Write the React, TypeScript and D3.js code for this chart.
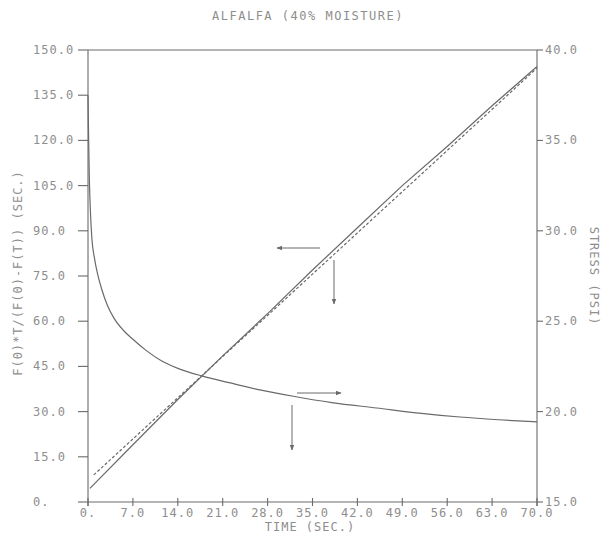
import React from "react";
import * as d3 from "d3";

const title = "ALFALFA (40% MOISTURE)";
const xLabel = "TIME (SEC.)";
const yLeftLabel = "F(0)*T/(F(0)-F(T))  (SEC.)";
const yRightLabel = "STRESS (PSI)";

const xTicks = [0, 7, 14, 21, 28, 35, 42, 49, 56, 63, 70];
const xTickLabels = ["0.", "7.0", "14.0", "21.0", "28.0", "35.0", "42.0", "49.0", "56.0", "63.0", "70.0"];
const yLeftTicks = [0, 15, 30, 45, 60, 75, 90, 105, 120, 135, 150];
const yLeftTickLabels = ["0.", "15.0", "30.0", "45.0", "60.0", "75.0", "90.0", "105.0", "120.0", "135.0", "150.0"];
const yRightTicks = [15, 20, 25, 30, 35, 40];
const yRightTickLabels = ["15.0", "20.0", "25.0", "30.0", "35.0", "40.0"];

// stress relaxation curve (right axis)
const stressTime = [0, 0.1, 0.2, 0.35, 0.6, 1.0, 1.5, 2.2, 3.0, 4.0, 5.5, 7.0, 9, 11.5, 14.3, 18, 22, 26.8, 32, 38, 45, 52, 58, 64, 70];
const stressValue = [37.5, 35, 33, 31.3, 29.6, 28.5, 27.6, 26.7, 25.9, 25.2, 24.5, 24.0, 23.4, 22.8, 22.35, 21.95, 21.6, 21.2, 20.85, 20.5, 20.2, 19.9, 19.7, 19.55, 19.43];

// linearized data (left axis, solid)
const ratioTime = [0.3, 7, 14, 21, 28, 35, 42, 49, 56, 63, 70];
const ratioValue = [4.5, 19, 34, 48.5, 62.5, 77, 91, 105, 118, 131.5, 144.5];

// fitted line (left axis, dashed)
const fitTime = [0.9, 70];
const fitValue = [9.0, 144];

const W = 601;
const H = 540;
const FONT = "'DejaVu Sans Mono', monospace";
const TXT = "#8e8e8e";
const LINE = "#6a6a6a";

export default function App() {
  const x = d3.scaleLinear().domain([0, 70]).range([88, 537]);
  const yL = d3.scaleLinear().domain([0, 150]).range([502, 50]);
  const yR = d3.scaleLinear().domain([15, 40]).range([502, 50]);

  const stressLine = d3
    .line<number>()
    .x((_, i) => x(stressTime[i]))
    .y((d) => yR(d))
    .curve(d3.curveMonotoneX)(stressValue);
  const ratioLine = d3
    .line<number>()
    .x((_, i) => x(ratioTime[i]))
    .y((d) => yL(d))(ratioValue);
  const fitLine = d3
    .line<number>()
    .x((_, i) => x(fitTime[i]))
    .y((d) => yL(d))(fitValue);

  const [x0, x1] = x.range();
  const [yb, yt] = yL.range();

  const textStyle = { fontFamily: FONT, fontSize: 12, fill: TXT, letterSpacing: 1 } as const;

  return (
    <svg width={W} height={H} style={{ position: "absolute", left: 0, top: 0, background: "#fff" }}>
      <defs>
        <marker id="ah" viewBox="0 0 10 10" refX="9" refY="5" markerWidth="6" markerHeight="6" orient="auto">
          <path d="M0,1 L10,5 L0,9 z" fill={LINE} />
        </marker>
      </defs>
      <text x={308} y={20} textAnchor="middle" style={{ ...textStyle, letterSpacing: 1.5 }}>
        {title}
      </text>

      {/* frame */}
      <line x1={x0} y1={yt} x2={x1} y2={yt} stroke={LINE} strokeWidth={1.1} />
      <line x1={x0} y1={yt} x2={x0} y2={yb + 4} stroke={LINE} strokeWidth={1.1} />
      <line x1={x1} y1={yt} x2={x1} y2={yb + 4} stroke={LINE} strokeWidth={1.1} />
      <line x1={x0} y1={yb} x2={x1} y2={yb} stroke={LINE} strokeWidth={1.1} />

      {/* left axis */}
      {yLeftTicks.map((v, i) => (
        <g key={"l" + i}>
          <line x1={x0 - 10} x2={x0} y1={yL(v)} y2={yL(v)} stroke={LINE} strokeWidth={1.1} />
          <text x={33} y={yL(v) + 4} textAnchor="start" style={textStyle}>
            {yLeftTickLabels[i]}
          </text>
        </g>
      ))}
      {/* right axis */}
      {yRightTicks.map((v, i) => (
        <g key={"r" + i}>
          <line x1={x1} x2={x1 + 6} y1={yR(v)} y2={yR(v)} stroke={LINE} strokeWidth={1.1} />
          <text x={x1 + 8} y={yR(v) + 4} textAnchor="start" style={textStyle}>
            {yRightTickLabels[i]}
          </text>
        </g>
      ))}
      {/* bottom axis */}
      {xTicks.map((v, i) => (
        <g key={"b" + i}>
          <line x1={x(v)} x2={x(v)} y1={yb - 4} y2={yb + 4} stroke={LINE} strokeWidth={1.1} />
          <text x={x(v)} y={yb + 15} textAnchor="middle" style={textStyle}>
            {xTickLabels[i]}
          </text>
        </g>
      ))}
      <text x={310} y={531} textAnchor="middle" style={textStyle}>
        {xLabel}
      </text>
      <text
        transform={`translate(22,273) rotate(-90)`}
        textAnchor="middle"
        style={textStyle}
      >
        {yLeftLabel}
      </text>
      <text
        transform={`translate(590,276) rotate(90)`}
        textAnchor="middle"
        style={textStyle}
      >
        {yRightLabel}
      </text>

      {/* data */}
      <path d={stressLine || ""} fill="none" stroke={LINE} strokeWidth={1.2} />
      <path d={ratioLine || ""} fill="none" stroke={LINE} strokeWidth={1.2} />
      <path d={fitLine || ""} fill="none" stroke={LINE} strokeWidth={1.2} strokeDasharray="3,2" />

      {/* arrows */}
      <line x1={320} y1={248} x2={277} y2={248} stroke={LINE} strokeWidth={1} markerEnd="url(#ah)" />
      <line x1={334} y1={260} x2={334} y2={304} stroke={LINE} strokeWidth={1} markerEnd="url(#ah)" />
      <line x1={297} y1={393} x2={341} y2={393} stroke={LINE} strokeWidth={1} markerEnd="url(#ah)" />
      <line x1={292} y1={405} x2={292} y2={450} stroke={LINE} strokeWidth={1} markerEnd="url(#ah)" />
    </svg>
  );
}
